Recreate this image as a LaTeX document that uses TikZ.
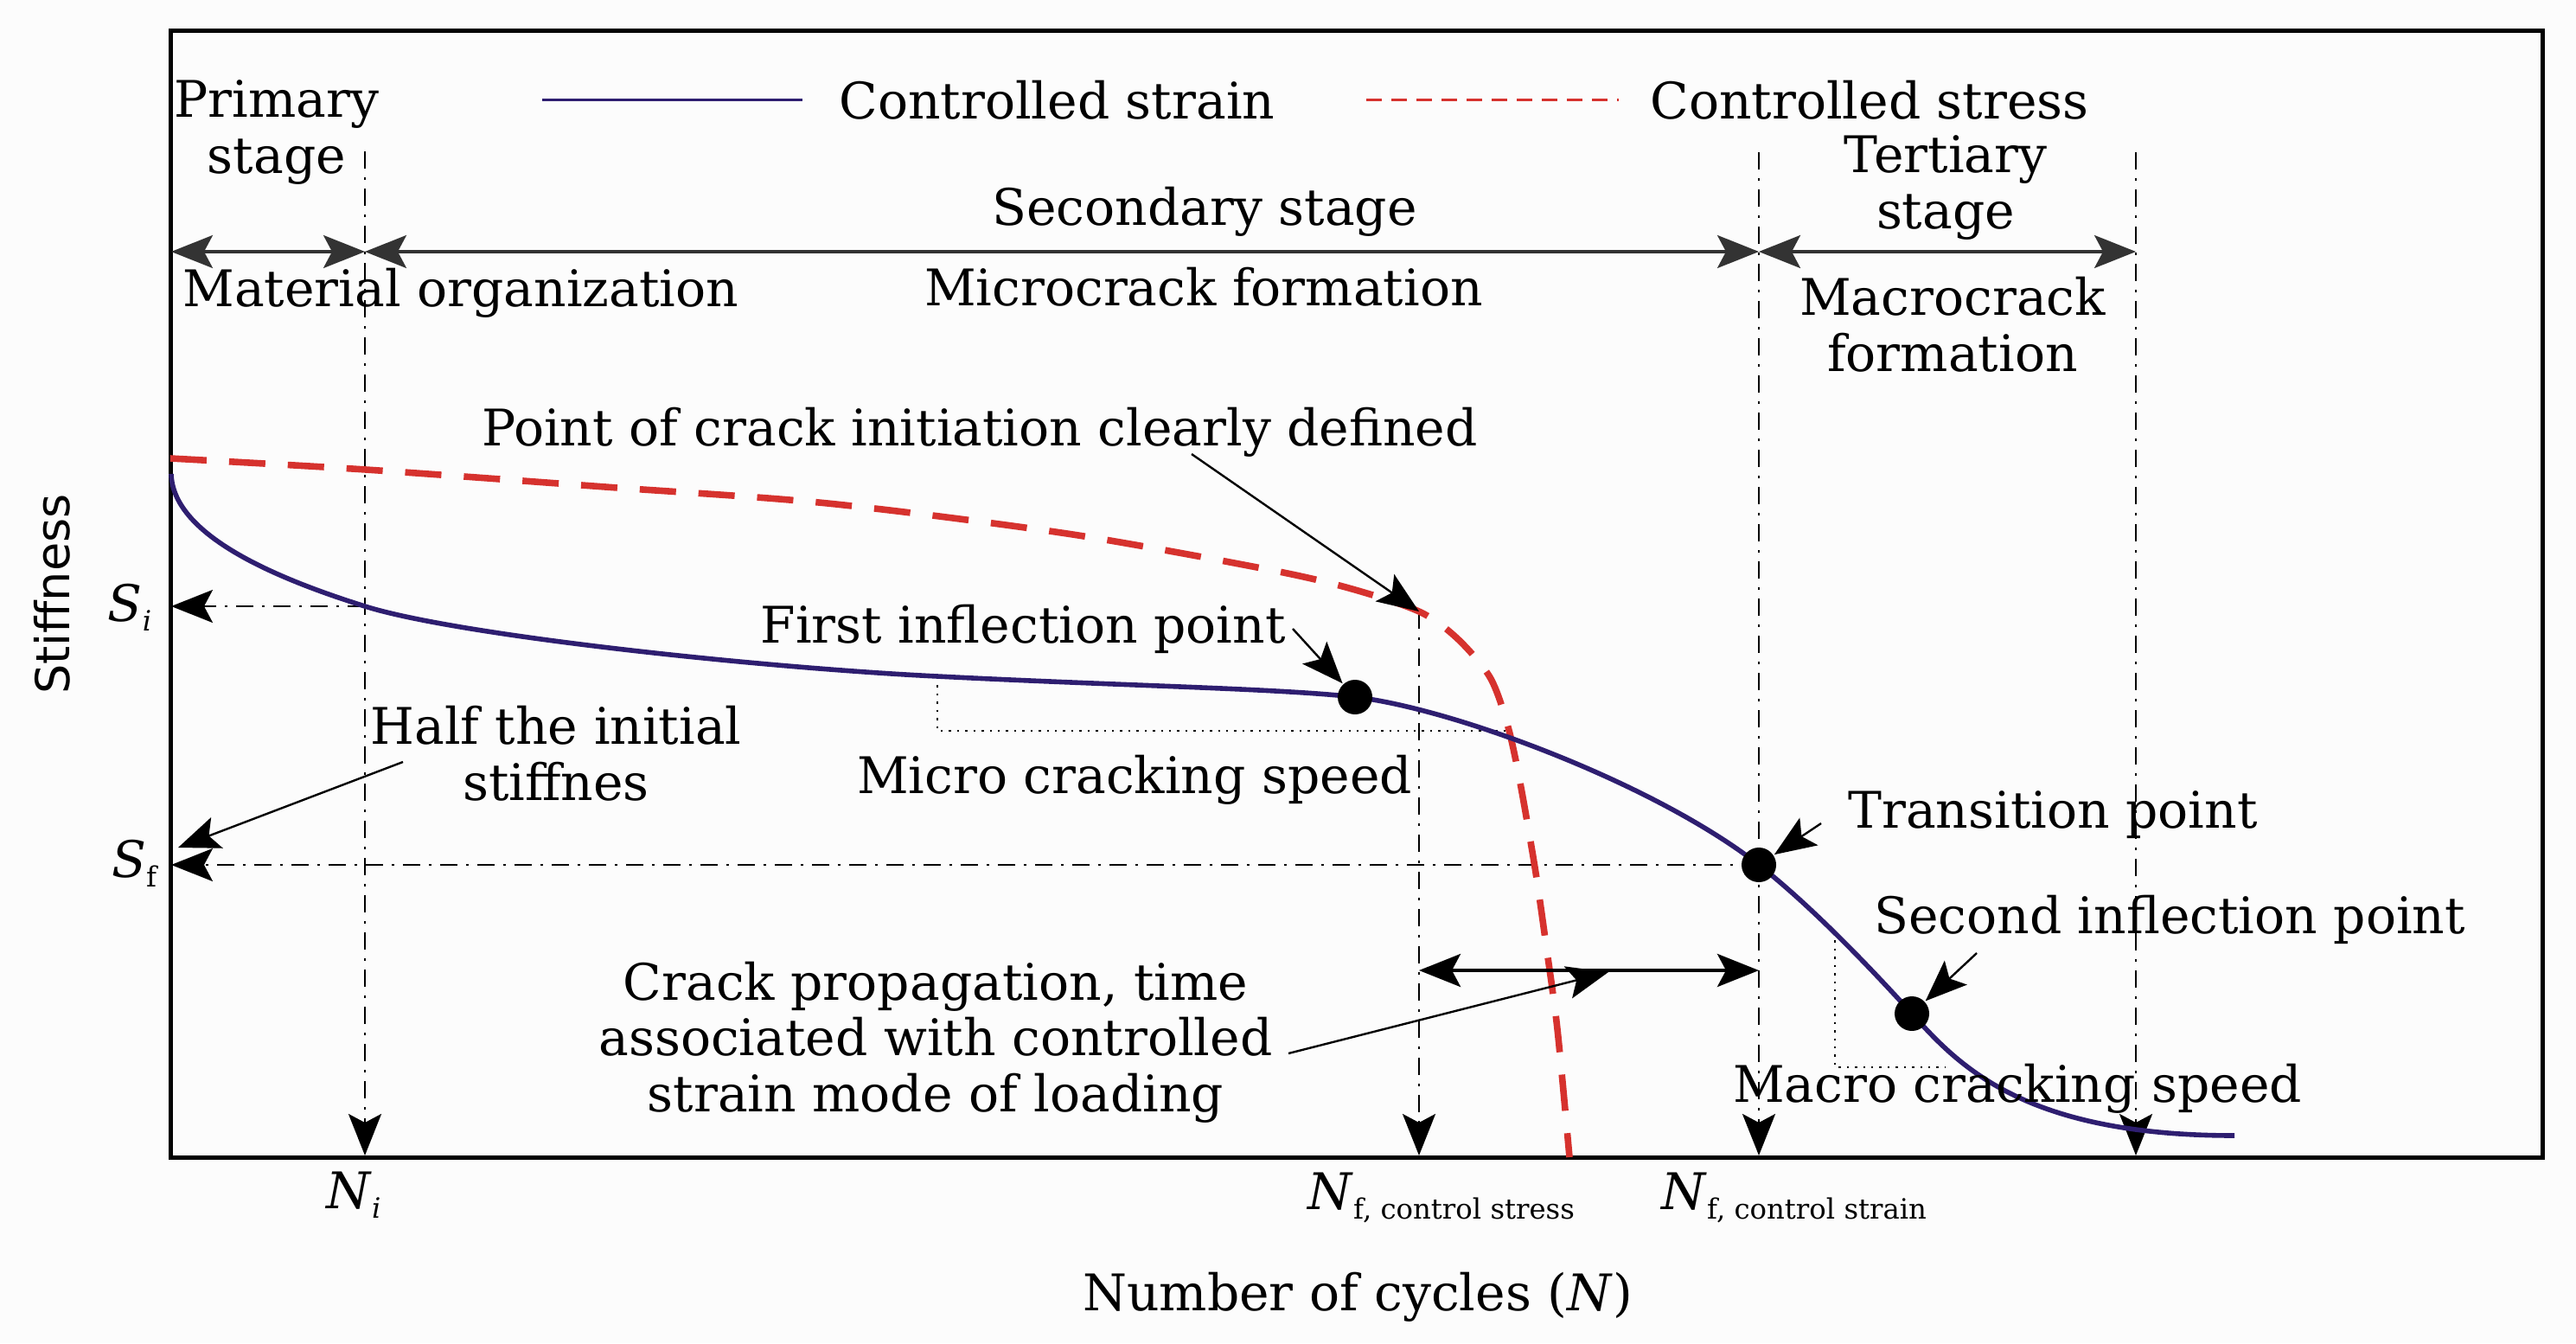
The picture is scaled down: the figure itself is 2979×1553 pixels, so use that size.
\documentclass[tikz,border=0pt]{standalone}
\usepackage{fontspec}
\setmainfont{DejaVu Serif}
\setsansfont{DejaVu Sans}
\usetikzlibrary{arrows.meta}
\definecolor{strainblue}{RGB}{46,30,112}
\definecolor{stressred}{RGB}{214,50,46}
\definecolor{paper}{RGB}{252,252,252}
\def\lblsize{\fontsize{8.3}{9.2}\selectfont}
\def\idx#1{\raisebox{-1.6pt}{\fontsize{4.6}{5}\selectfont #1}}
\tikzset{
  >={Stealth[length=2.4mm,width=1.9mm,inset=0.5mm]},
  frame/.style={line width=0.25mm},
  stagearrow/.style={<->, line width=0.16mm, black!80},
  guide/.style={line width=0.13mm, dash pattern=on 1mm off 0.5mm on 0.15mm off 0.5mm},
  pointer/.style={->, line width=0.12mm},
  speed/.style={densely dotted, line width=0.12mm},
  strain/.style={strainblue, line width=0.28mm},
  stress/.style={stressred, line width=0.38mm, dash pattern=on 2.1mm off 1.3mm},
  dot/.style={circle, fill=black, inner sep=0pt, minimum size=2mm},
  lbl/.style={font=\lblsize, align=center, inner sep=1pt}
}

\begin{document}
\begin{tikzpicture}[x=0.05mm, y=-0.05mm]
				\fill[paper] (0,0) rectangle (2979,1553);
				\useasboundingbox (0,0) rectangle (2979,1553);
				
				% frame and key points
				\draw[frame] (197,36) rectangle (2940,1338);
				\coordinate (Ni top) at (422,175);
				\coordinate (Ni bot) at (422,1336);
				\coordinate (Si) at (422,701);
				\coordinate (Si axis) at (198,701);
				\coordinate (Sf axis) at (198,1000);
				\coordinate (crack) at (1641,707);
				\coordinate (Ns bot) at (1641,1336);
				\coordinate (Ne top) at (2034,176);
				\coordinate (Ne bot) at (2034,1336);
				\coordinate (Nend top) at (2470,176);
				\coordinate (Nend bot) at (2470,1336);
				\coordinate (L) at (198,291);
				\coordinate (Li) at (422,291);
				\coordinate (Le) at (2034,291);
				\coordinate (Lend) at (2470,291);
				\coordinate (prop) at (1641,1122);
				\coordinate (prop end) at (2034,1122);
				
				% stage arrows
				\draw[stagearrow] (L) -- (Li);
				\draw[stagearrow] (Li) -- (Le);
				\draw[stagearrow] (Le) -- (Lend);
				
				% guide lines
				\draw[guide,->] (Ni top) -- (Ni bot);
				\draw[guide,->] (crack) -- (Ns bot);
				\draw[guide,->] (Ne top) -- (Ne bot);
				\draw[guide,->] (Nend top) -- (Nend bot);
				\draw[guide,->] (Si) -- (Si axis);
				\draw[guide,->] (Ne bot |- 0,1000) -- (Sf axis);
				
				% speed triangles
				\draw[speed] (1084,783) -- (1084,845) -- (1747,845);
				\draw[speed] (2122,1078) -- (2122,1234) -- (2250,1234);
				
				% curves
				\draw[stress] plot[smooth] coordinates {(197,530) (423,543) (700,563) (957,582) (1234,617) (1464,658) (1560,680) (1641,707) (1685,738) (1723,783) (1743,837) (1757,900) (1775,1003) (1788,1093) (1801,1190) (1815,1338)};
				\draw[strain] (198,548) .. controls (200,622) and (330,672) .. (Si)
				  .. controls (530,735) and (880,772) .. (1084,782)
				  .. controls (1300,793) and (1480,796) .. (1567,806)
				  .. controls (1680,819) and (1914,906) .. (2034,1000)
				  .. controls (2100,1052) and (2171,1128) .. (2211,1172)
				  .. controls (2265,1232) and (2340,1313) .. (2584,1313);
				
				% dots
				\node[dot] (first) at (1567,806) {};
				\node[dot] (trans) at (2034,1000) {};
				\node[dot] (second) at (2211,1172) {};
				
				% legend
				\draw[strain, line width=0.15mm] (627,116) -- (928,116);
				\node[lbl, anchor=west] (leg strain) at (962,116) {Controlled strain};
				\draw[stressred, line width=0.15mm, dash pattern=on 0.9mm off 0.55mm] (1580,116) -- (1872,116);
				\node[lbl, anchor=west] (leg stress) at (1900,116) {Controlled stress};
				
				% stage labels
				\node[lbl] (primary) at (320,153) {Primary\\stage};
				\node[lbl] (secondary) at (1393,245) {Secondary stage};
				\node[lbl] (tertiary) at (2250,217) {Tertiary\\stage};
				\node[lbl, anchor=west] (material) at (203,339) {Material organization};
				\node[lbl] (micro) at (1392,332) {Microcrack formation};
				\node[lbl] (macro) at (2258,375) {Macrocrack\\formation};
				
				% annotations
				\node[lbl] (initiation) at (1133,500) {Point of crack initiation clearly defined};
				\node[lbl, anchor=east] (first lbl) at (1495,727) {First inflection point};
				\node[lbl] (micro speed) at (1312,902) {Micro cracking speed};
				\node[lbl] (half) at (643,871) {Half the initial\\stiffnes};
				\node[lbl] (propagation) at (1082,1205) {Crack propagation, time\\associated with controlled\\strain mode of loading};
				\node[lbl] (trans lbl) at (2374,942) {Transition point};
				\node[lbl] (second lbl) at (2509,1063) {Second inflection point};
				\node[lbl] (macro speed) at (2333,1259) {Macro cracking speed};
				
				\draw[pointer] (1378,525) -- (crack);
				\draw[pointer] (first lbl.east) -- (first);
				\draw[pointer] (466,881) -- (206,980);
				\draw[pointer] (2106,952) -- (trans);
				\draw[pointer] (2286,1102) -- (second);
				\draw[pointer] (1490,1218) -- (1860,1124);
				\draw[<->, line width=0.2mm] (prop) -- (prop end);
				
				% axes labels
				\node[lbl] (Si lbl) at (150,702) {\textit{S}\idx{\textit{i}}};
				\node[lbl] (Sf lbl) at (155,998) {\textit{S}\idx{f}};
				\node[lbl] (Ni lbl) at (409,1382) {\textit{N}\idx{\textit{i}}};
				\node[lbl, anchor=west] (Ns lbl) at (1504,1385) {\textit{N}\idx{f, control stress}};
				\node[lbl, anchor=west] (Ne lbl) at (1913,1385) {\textit{N}\idx{f, control strain}};
				\node[lbl] (xlabel) at (1570,1500) {Number of cycles (\textit{N})};
				\node[rotate=90, font=\sffamily\fontsize{7.7}{9}\selectfont] (ylabel) at (60,687) {Stiffness};
			\end{tikzpicture}
\end{document}
